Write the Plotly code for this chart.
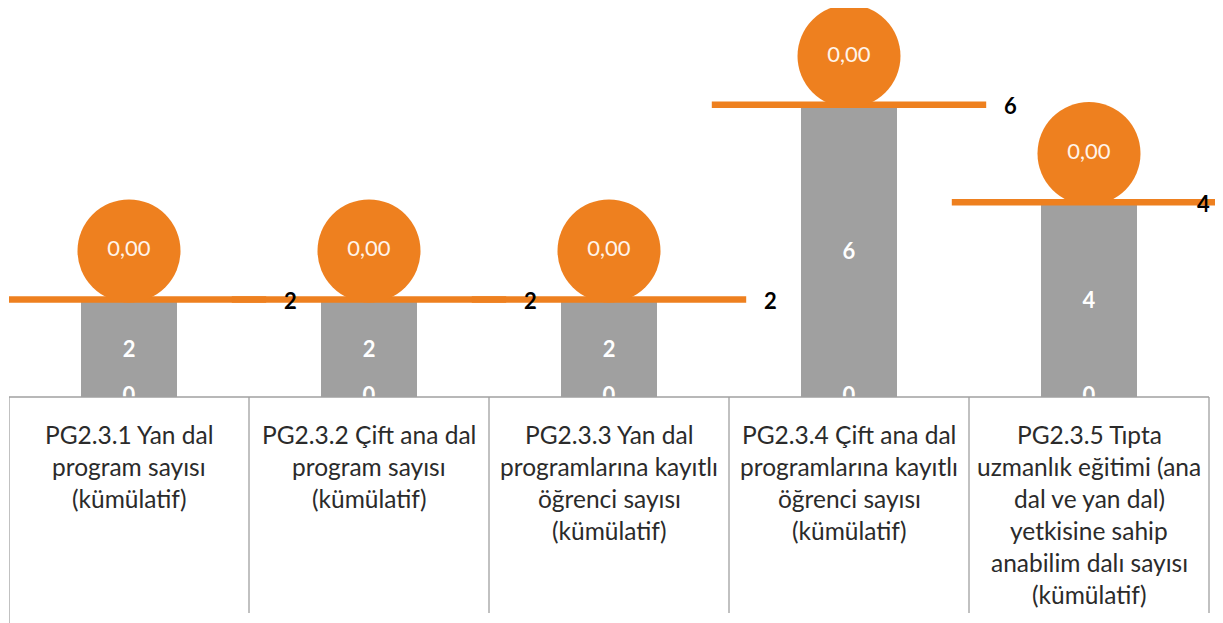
import plotly.graph_objects as go

# ------------------------------------------------------------------
# Data
# ------------------------------------------------------------------
categories = [
    "PG2.3.1 Yan dal<br>program sayısı<br>(kümülatif)",
    "PG2.3.2 Çift ana dal<br>program sayısı<br>(kümülatif)",
    "PG2.3.3 Yan dal<br>programlarına kayıtlı<br>öğrenci sayısı<br>(kümülatif)",
    "PG2.3.4 Çift ana dal<br>programlarına kayıtlı<br>öğrenci sayısı<br>(kümülatif)",
    "PG2.3.5 Tıpta<br>uzmanlık eğitimi (ana<br>dal ve yan dal)<br>yetkisine sahip<br>anabilim dalı sayısı<br>(kümülatif)",
]
targets = [2, 2, 2, 6, 4]          # grey bars / orange target lines
actuals = [0, 0, 0, 0, 0]          # bottom labels "0"
achievement = ["0,00", "0,00", "0,00", "0,00", "0,00"]  # orange bubbles

ORANGE = "#EE801F"
GREY = "#A0A0A0"
FONT = "Lato"

xs = list(range(len(categories)))
bubble_y = [t + 1 for t in targets]  # bubble sits on top of the target line

fig = go.Figure()

# grey bars
fig.add_trace(go.Bar(
    x=xs, y=targets, width=0.4,
    marker=dict(color=GREY, line=dict(width=0)),
    text=[f"<b>{t}</b>" for t in targets], textposition="inside",
    insidetextanchor="middle",
    textfont=dict(color="white", size=22, family=FONT),
    showlegend=False, hoverinfo="none",
))

# "0" labels at the bar base (half hidden under the table)
fig.add_trace(go.Scatter(
    x=xs, y=actuals, mode="text",
    text=[f"<b>{a}</b>" for a in actuals], textposition="middle center",
    textfont=dict(color="white", size=22, family=FONT),
    cliponaxis=True, showlegend=False, hoverinfo="none",
))

# orange target lines (line-ew length is 1.4 x size)
fig.add_trace(go.Scatter(
    x=xs, y=targets, mode="markers",
    marker=dict(symbol="line-ew", size=196, line=dict(color=ORANGE, width=6.5)),
    cliponaxis=True, showlegend=False, hoverinfo="none",
))

# orange bubbles
fig.add_trace(go.Scatter(
    x=xs, y=bubble_y, mode="markers+text",
    marker=dict(size=103, color=ORANGE, line=dict(width=0)),
    text=achievement, textposition="middle center",
    textfont=dict(color="#FFF4EA", size=22, family=FONT),
    cliponaxis=False, showlegend=False, hoverinfo="none",
))

annotations = []
# target value labels to the right of the lines
label_shift = [161, 161, 161, 161, 114]
for i, t in enumerate(targets):
    annotations.append(dict(
        x=i, y=t, xref="x", yref="y", text=f"<b>{t}</b>", showarrow=False,
        xshift=label_shift[i], yshift=-1, xanchor="center", yanchor="middle",
        font=dict(color="black", size=22, family=FONT),
    ))

# category labels in the table below the plot, one annotation per line
for i, cat in enumerate(categories):
    for k, line in enumerate(cat.split("<br>")):
        annotations.append(dict(
            x=i, y=0, xref="x", yref="paper", text=line, showarrow=False,
            yshift=-37 - 32 * k, xanchor="center", yanchor="middle",
            font=dict(color="#2B2B2B", size=24.5, family=FONT),
        ))

# page body adds 8px offset, so the figure is 8px smaller and shifted
plot_h = 389.0
shapes = [dict(type="line", xref="x", yref="paper", x0=-0.5, x1=len(xs) - 0.5,
               y0=0, y1=0, line=dict(color=GREY, width=1.3))]
for j in range(len(xs) + 1):
    bottom = 226 if j == 0 else 216
    shapes.append(dict(type="line", xref="x", yref="paper", x0=j - 0.5, x1=j - 0.5,
                       y0=0, y1=-bottom / plot_h,
                       line=dict(color=GREY, width=1.3)))

fig.update_layout(
    width=1215, height=615,
    margin=dict(l=1, r=0, t=0, b=226),
    paper_bgcolor="white", plot_bgcolor="white",
    xaxis=dict(range=[-0.5, -0.5 + 1214 / 240], showticklabels=False, showgrid=False,
               zeroline=False, showline=False, fixedrange=True),
    yaxis=dict(range=[0, plot_h / 48.7], showticklabels=False, showgrid=False,
               zeroline=False, showline=False, fixedrange=True),
    annotations=annotations, shapes=shapes,
    bargap=0.6,
)

fig.write_html("out.html")
